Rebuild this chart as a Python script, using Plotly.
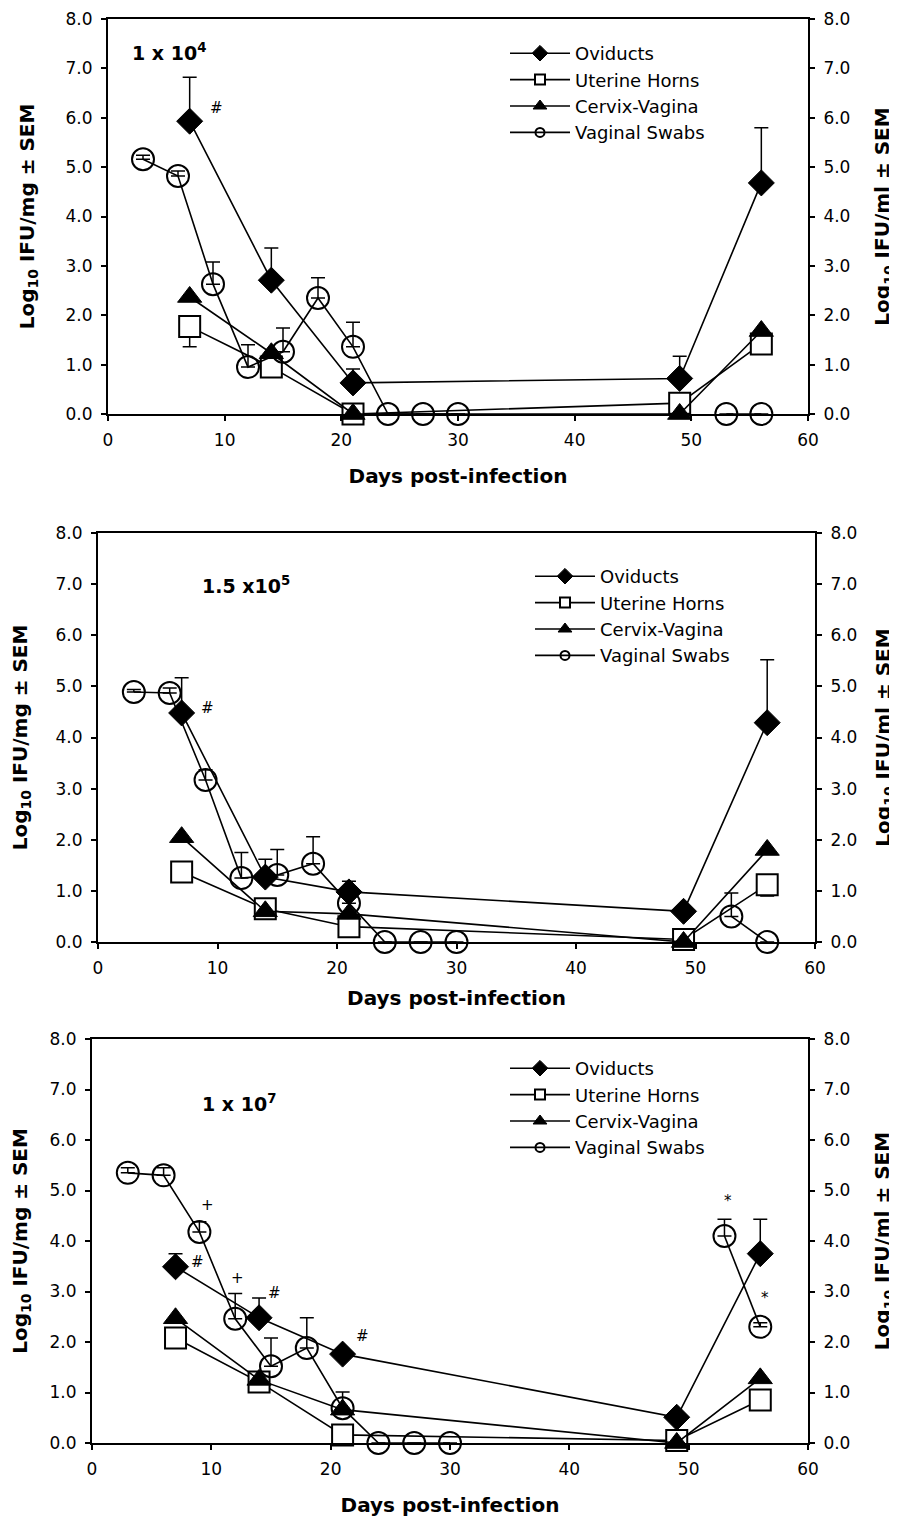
import plotly.graph_objects as go

# page is drawn with the browser's default 8px body margin
PAGE_OFFSET = 8
W, H = 897 - PAGE_OFFSET, 1529 - PAGE_OFFSET

# ---------------- data ----------------
days_tissue = [7, 14, 21, 49, 56]
days_swab = [3, 6, 9, 12, 15, 18, 21, 24, 27, 30, None, 53, 56]
x_ticks = [0, 10, 20, 30, 40, 50, 60]
y_ticks = [0, 1, 2, 3, 4, 5, 6, 7, 8]
y_tick_labels = ["0.0", "1.0", "2.0", "3.0", "4.0", "5.0", "6.0", "7.0", "8.0"]
series_names = ["Oviducts", "Uterine Horns", "Cervix-Vagina", "Vaginal Swabs"]
panel_labels = ["<b>1 x 10<sup>4</sup></b>", "<b>1.5 x10<sup>5</sup></b>", "<b>1 x 10<sup>7</sup></b>"]

# Panel 1 : 1 x 10^4
ovi_1 = [5.93, 2.71, 0.63, 0.72, 4.68]
ovi_1_err = [0.89, 0.65, 0.28, 0.45, 1.12]
uh_1 = [1.77, 0.95, 0.0, 0.22, 1.42]
uh_1_errminus = [0.41, 0.0, 0.0, 0.0, 0.0]
cv_1 = [2.37, 1.23, 0.0, 0.0, 1.68]
vs_1 = [5.16, 4.82, 2.63, 0.95, 1.26, 2.35, 1.36, 0, 0, 0, None, 0, 0]
vs_1_err = [0.08, 0.10, 0.45, 0.45, 0.48, 0.41, 0.50, 0, 0, 0, None, 0, 0]

# Panel 2 : 1.5 x 10^5
ovi_2 = [4.48, 1.27, 0.98, 0.60, 4.29]
ovi_2_err = [0.69, 0.35, 0.21, 0.0, 1.23]
uh_2 = [1.37, 0.65, 0.30, 0.05, 1.12]
uh_2_errminus = [0.0, 0.0, 0.0, 0.0, 0.22]
cv_2 = [2.05, 0.60, 0.55, 0.0, 1.80]
vs_2 = [4.89, 4.87, 3.17, 1.25, 1.31, 1.53, 0.76, 0, 0, 0, None, 0.50, 0]
vs_2_err = [0.05, 0.10, 0.20, 0.50, 0.50, 0.53, 0.0, 0, 0, 0, None, 0.46, 0]

# Panel 3 : 1 x 10^7
ovi_3 = [3.49, 2.48, 1.76, 0.51, 3.75]
ovi_3_err = [0.26, 0.39, 0.0, 0.0, 0.68]
uh_3 = [2.08, 1.21, 0.16, 0.05, 0.85]
uh_3_errminus = [0.0, 0.0, 0.0, 0.0, 0.0]
cv_3 = [2.47, 1.25, 0.66, 0.0, 1.28]
vs_3 = [5.35, 5.30, 4.18, 2.46, 1.52, 1.88, 0.69, 0, 0, 0, None, 4.10, 2.30]
vs_3_err = [0.10, 0.15, 0.20, 0.50, 0.56, 0.60, 0.32, 0, 0, 0, None, 0.33, 0.08]

# significance marks (text, day, value) per panel
marks_1 = [("#", 9.3, 6.2)]
marks_2 = [("#", 9.2, 4.58)]
marks_3 = [("#", 8.8, 3.58), ("+", 9.7, 4.72), ("+", 12.2, 3.27), ("#", 15.3, 2.98),
           ("#", 22.7, 2.11), ("*", 53.3, 4.8), ("*", 56.4, 2.88)]
label_pos = [(1.9, 7.33), (8.5, 6.99), (9.05, 6.73)]

panels = [
    (ovi_1, ovi_1_err, uh_1, uh_1_errminus, cv_1, vs_1, vs_1_err, marks_1),
    (ovi_2, ovi_2_err, uh_2, uh_2_errminus, cv_2, vs_2, vs_2_err, marks_2),
    (ovi_3, ovi_3_err, uh_3, uh_3_errminus, cv_3, vs_3, vs_3_err, marks_3),
]

# ---------------- layout geometry (screen pixels) ----------------
plot_x = [(108, 808), (98, 815), (92, 808)]
plot_y = [(19, 414), (533, 942), (1039, 1443)]
legend_pos = [(505, 35), (530, 558), (505, 1050)]
xtitle_standoff = [20, 14, 20]

FONT = "DejaVu Sans"
BLACK = "black"

marker_styles = [
    dict(symbol="diamond", color=BLACK, line=dict(color=BLACK, width=1)),
    dict(symbol="square", color="white", line=dict(color=BLACK, width=2)),
    dict(symbol="triangle-up", color=BLACK, line=dict(color=BLACK, width=1)),
    dict(symbol="circle", color="rgba(0,0,0,0)", line=dict(color=BLACK, width=2)),
]
data_sizes = [20, 21, 21, 22]
legend_sizes = [12, 10, 12, 9]

fig = go.Figure()


def err(arr, minus=None):
    d = dict(type="data", array=arr, symmetric=False, color=BLACK, thickness=1.5, width=7)
    d["arrayminus"] = minus if minus is not None else [0] * len(arr)
    return d


for i, (ovi, ovi_e, uh, uh_em, cv, vs, vs_e, marks) in enumerate(panels):
    n = "" if i == 0 else str(i + 1)
    xa, ya = "x" + n, "y" + n
    leg = "legend" + n
    common = dict(xaxis=xa, yaxis=ya, cliponaxis=False, mode="lines+markers", showlegend=False,
                  line=dict(color=BLACK, width=1.6), hoverinfo="skip")
    ys = [ovi, uh, cv, vs]
    xs = [days_tissue, days_tissue, days_tissue, days_swab]
    errs = [err(ovi_e), err([0] * len(uh), uh_em), None, err(vs_e)]
    for k in range(4):
        m = dict(marker_styles[k])
        m["size"] = data_sizes[k]
        kw = dict(common)
        if errs[k] is not None:
            kw["error_y"] = errs[k]
        fig.add_trace(go.Scatter(x=xs[k], y=ys[k], name=series_names[k], marker=m,
                                 connectgaps=False, **kw))
    # legend entries (no data, style only)
    for k in range(4):
        m = dict(marker_styles[k])
        m["size"] = legend_sizes[k]
        fig.add_trace(go.Scatter(x=[None], y=[None], xaxis=xa, yaxis=ya, name=series_names[k],
                                 legend=leg, legendgroup=f"g{i}{k}", mode="lines+markers",
                                 marker=m, line=dict(color=BLACK, width=1.6),
                                 hoverinfo="skip"))
    # helper (invisible) trace so the right-hand axis is drawn
    fig.add_trace(go.Scatter(x=[None], y=[None], xaxis=xa, yaxis="y" + str(i + 4),
                             showlegend=False, hoverinfo="skip", mode="markers"))

    for (t, dx, dy) in marks:
        fig.add_annotation(x=dx, y=dy, xref=xa, yref=ya, text=t, showarrow=False,
                           font=dict(family=FONT, size=15, color=BLACK))
    lx, ly = label_pos[i]
    fig.add_annotation(x=lx, y=ly, xref=xa, yref=ya, text=panel_labels[i], showarrow=False,
                       xanchor="left", yanchor="middle",
                       font=dict(family=FONT, size=19, color=BLACK))

layout = dict(width=W, height=H, margin=dict(l=0, r=0, t=0, b=0, autoexpand=False),
              paper_bgcolor="white", plot_bgcolor="white",
              font=dict(family=FONT, size=17, color=BLACK))


def px_x(v):
    return (v - PAGE_OFFSET) / W


def px_y(v):
    return 1 - (v - PAGE_OFFSET) / H


for i in range(3):
    n = "" if i == 0 else str(i + 1)
    x0, x1 = plot_x[i]
    y0, y1 = plot_y[i]
    xdom = [px_x(x0), px_x(x1)]
    ydom = [px_y(y1), px_y(y0)]
    axis_common = dict(ticks="outside", ticklen=5, tickwidth=1.5, tickcolor=BLACK,
                       showline=True, linecolor=BLACK, linewidth=2, showgrid=False,
                       zeroline=False, automargin=False, ticklabelstandoff=5,
                       tickfont=dict(family=FONT, size=17))
    layout["xaxis" + n] = dict(domain=xdom, anchor="y" + n, range=[0, 60], tickvals=x_ticks,
                               mirror=True,
                               title=dict(text="<b>Days post-infection</b>",
                                          standoff=xtitle_standoff[i],
                                          font=dict(family=FONT, size=20)),
                               **axis_common)
    layout["yaxis" + n] = dict(domain=ydom, anchor="x" + n, range=[0, 8], tickvals=y_ticks,
                               ticktext=y_tick_labels,
                               title=dict(text="<b>Log<sub>10</sub> IFU/mg ± SEM</b>",
                                          standoff=26, font=dict(family=FONT, size=20)),
                               **axis_common)
    layout["yaxis" + str(i + 4)] = dict(overlaying="y" + n, anchor="x" + n, side="right",
                                        range=[0, 8], tickvals=y_ticks,
                                        ticktext=y_tick_labels,
                                        title=dict(text="<b>Log<sub>10</sub> IFU/ml ± SEM</b>",
                                                   standoff=26,
                                                   font=dict(family=FONT, size=20)),
                                        **axis_common)
    lx, ly = legend_pos[i]
    layout["legend" + n] = dict(x=px_x(lx), y=px_y(ly), xanchor="left", yanchor="top",
                                bgcolor="rgba(0,0,0,0)", borderwidth=0,
                                font=dict(family=FONT, size=18, color=BLACK),
                                itemsizing="trace", itemwidth=60, tracegroupgap=0,
                                traceorder="grouped")

fig.update_layout(**layout)
fig.write_html("out.html")
